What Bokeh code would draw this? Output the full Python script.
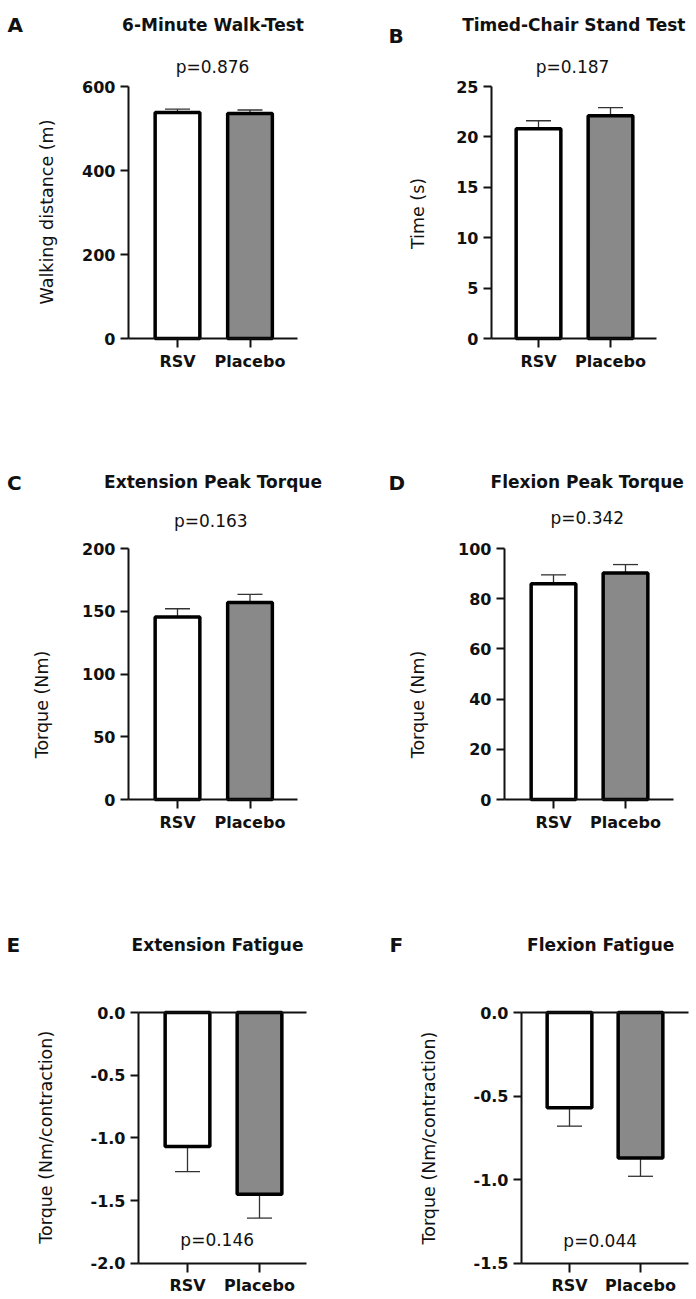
from bokeh.plotting import figure
from bokeh.layouts import column, row
from bokeh.models import (Range1d, FixedTicker, NumeralTickFormatter, LinearAxis,
                          BasicTickFormatter, Whisker, TeeHead, ColumnDataSource, Label)
from bokeh.embed import file_html
from bokeh.resources import INLINE

# ---------------- data ----------------
groups = ["RSV", "Placebo"]
fill_colors = ["white", "#898989"]

walk_mean = [538, 536]
walk_sem = [8, 8]
chair_mean = [20.8, 22.1]
chair_sem = [0.8, 0.8]
ext_peak_mean = [145.5, 157.0]
ext_peak_sem = [6.5, 6.5]
flex_peak_mean = [86.0, 90.2]
flex_peak_sem = [3.5, 3.4]
ext_fat_mean = [-1.07, -1.45]
ext_fat_sem = [0.20, 0.19]
flex_fat_mean = [-0.57, -0.87]
flex_fat_sem = [0.11, 0.11]

walk_ticks = [0, 200, 400, 600]
chair_ticks = [0, 5, 10, 15, 20, 25]
ext_peak_ticks = [0, 50, 100, 150, 200]
flex_peak_ticks = [0, 20, 40, 60, 80, 100]
ext_fat_ticks = [-2.0, -1.5, -1.0, -0.5, 0.0]
flex_fat_ticks = [-1.5, -1.0, -0.5, 0.0]

titles = ["6-Minute Walk-Test", "Timed-Chair Stand Test", "Extension Peak Torque",
          "Flexion Peak Torque", "Extension Fatigue", "Flexion Fatigue"]
letters = ["A", "B", "C", "D", "E", "F"]
y_titles = ["Walking distance (m)", "Time (s)", "Torque (Nm)", "Torque (Nm)",
            "Torque (Nm/contraction)", "Torque (Nm/contraction)"]
p_texts = ["p=0.876", "p=0.187", "p=0.163", "p=0.342", "p=0.146", "p=0.044"]

FONT = "DejaVu Sans"
INK = "#111111"


def style_axis(ax):
    ax.axis_line_color = INK
    ax.axis_line_width = 2
    ax.major_tick_line_color = INK
    ax.major_tick_line_width = 2
    ax.major_tick_in = 0
    ax.minor_tick_line_color = None
    ax.major_label_text_font = FONT
    ax.major_label_text_font_style = "bold"
    ax.major_label_text_font_size = "16px"
    ax.major_label_text_color = INK


def make_panel(i, means, sems, ticks, fmt, geom, pos):
    # geom: cell box, y-axis x, x-axis end x, group centres, top / bottom tick y (page px)
    (cx0, cy0, cx1, cy1), ax_x, xe, (c1, c2), (yt, yb) = geom
    negative = means[0] < 0
    ymin, ymax = min(ticks), max(ticks)
    u = c2 - c1                        # px per group step
    v = (yb - yt) / (ymax - ymin)      # px per y unit
    x0 = 0 - (c1 - cx0) / u
    x1 = 1 + (cx1 - c2) / u
    y0 = ymin - (cy1 - yb) / v
    y1 = ymax + (yt - cy0) / v
    axis_x = 0 - (c1 - ax_x) / u
    end_x = 1 + (xe - c2) / u

    p = figure(width=cx1 - cx0, height=cy1 - cy0,
               x_range=Range1d(x0, x1), y_range=Range1d(y0, y1),
               output_backend="svg", toolbar_location=None,
               min_border_left=0, min_border_right=0,
               min_border_top=0, min_border_bottom=0)
    p.title.visible = False
    p.xgrid.visible = False
    p.ygrid.visible = False
    p.outline_line_color = None
    p.background_fill_color = "white"
    p.border_fill_color = "white"

    xs = list(range(len(groups)))
    lower = [m - s for m, s in zip(means, sems)]
    upper = [m + s for m, s in zip(means, sems)]
    src = ColumnDataSource(dict(x=xs, cat=groups, val=means, lower=lower, upper=upper,
                                color=fill_colors))
    if negative:
        wh = Whisker(base="x", lower="lower", upper="val", source=src,
                     dimension="height", line_color="#333333", line_width=1.3,
                     lower_head=TeeHead(size=25, line_color="#333333", line_width=1.3),
                     upper_head=None)
    else:
        wh = Whisker(base="x", lower="val", upper="upper", source=src,
                     dimension="height", line_color="#333333", line_width=1.3,
                     upper_head=TeeHead(size=25, line_color="#333333", line_width=1.3),
                     lower_head=None)
    p.add_layout(wh)
    p.vbar(x="x", top="val", bottom=0, width=44.7 / u, source=src,
           fill_color="color", line_color="black", line_width=3.5)

    # y axis
    yax = p.yaxis[0]
    yax.fixed_location = axis_x
    yax.bounds = (ymin, ymax)
    yax.ticker = FixedTicker(ticks=ticks)
    yax.formatter = fmt
    style_axis(yax)
    yax.major_tick_out = 8
    yax.major_label_standoff = 5

    # x axis (categories)
    xax = p.xaxis[0]
    xax.fixed_location = ymin
    xax.bounds = (axis_x, end_x)
    xax.ticker = FixedTicker(ticks=xs)
    xax.major_label_overrides = {k: g for k, g in zip(xs, groups)}
    style_axis(xax)
    xax.major_tick_out = 9
    xax.major_label_standoff = 4

    if negative:
        # zero baseline
        zax = LinearAxis(fixed_location=0, bounds=(axis_x, end_x),
                         ticker=FixedTicker(ticks=[]))
        style_axis(zax)
        zax.major_label_text_font_size = "0px"
        p.add_layout(zax, "below")

    def sx(x):
        return x - cx0

    def sy(y):
        return cy1 - y

    (lx, ly), (tx, ty), (px, py), (yx, yy) = pos
    p.add_layout(Label(x=sx(lx), y=sy(ly), x_units="screen", y_units="screen",
                       text=letters[i], text_font=FONT, text_font_style="bold",
                       text_font_size="20px", text_color=INK,
                       text_align="left", text_baseline="alphabetic"))
    p.add_layout(Label(x=sx(tx), y=sy(ty), x_units="screen", y_units="screen",
                       text=titles[i], text_font=FONT, text_font_style="bold",
                       text_font_size="17px", text_color=INK,
                       text_align="center", text_baseline="alphabetic"))
    p.add_layout(Label(x=sx(px), y=sy(py), x_units="screen", y_units="screen",
                       text=p_texts[i], text_font=FONT, text_font_style="normal",
                       text_font_size="17px", text_color=INK,
                       text_align="center", text_baseline="alphabetic"))
    p.add_layout(Label(x=sx(yx), y=sy(yy), x_units="screen", y_units="screen",
                       text=y_titles[i], text_font=FONT, text_font_style="normal",
                       text_font_size="17.5px", text_color=INK, angle=90,
                       angle_units="deg", text_align="center", text_baseline="middle"))
    return p


pA = make_panel(0, walk_mean, walk_sem, walk_ticks, BasicTickFormatter(),
                ((0, 0, 348, 420), 128, 297, (177, 249.5), (86, 338)),
                [(7, 24), (212.5, 24.3), (212, 66.7), (46.7, 211.5)])
pB = make_panel(1, chair_mean, chair_sem, chair_ticks, BasicTickFormatter(),
                ((348, 0, 696, 420), 491, 656, (538, 610), (86, 338)),
                [(388, 35), (573.3, 24.3), (572, 66.7), (417.3, 213)])
pC = make_panel(2, ext_peak_mean, ext_peak_sem, ext_peak_ticks, BasicTickFormatter(),
                ((0, 420, 348, 860), 128, 297, (177, 249.5), (548, 799)),
                [(6.5, 482), (212.5, 481.7), (210.3, 520), (41.7, 704)])
pD = make_panel(3, flex_peak_mean, flex_peak_sem, flex_peak_ticks, BasicTickFormatter(),
                ((348, 420, 696, 860), 504, 673, (553, 625), (548, 799)),
                [(388, 482), (586.7, 481.7), (586.8, 517.3), (417.3, 704)])
pE = make_panel(4, ext_fat_mean, ext_fat_sem, ext_fat_ticks, NumeralTickFormatter(format="0.0"),
                ((0, 860, 348, 1299), 138, 306, (187, 259), (1012, 1262.7)),
                [(6, 944), (217, 944), (216.7, 1239.3), (45.5, 1136.7)])
pF = make_panel(5, flex_fat_mean, flex_fat_sem, flex_fat_ticks, NumeralTickFormatter(format="0.0"),
                ((348, 860, 696, 1299), 521, 688, (569, 640), (1012, 1262.7)),
                [(389, 944), (600.2, 944), (599.7, 1240), (428, 1137.5)])

layout = column(row(pA, pB), row(pC, pD), row(pE, pF))

with open("out.html", "w") as f:
    f.write(file_html(layout, INLINE))
